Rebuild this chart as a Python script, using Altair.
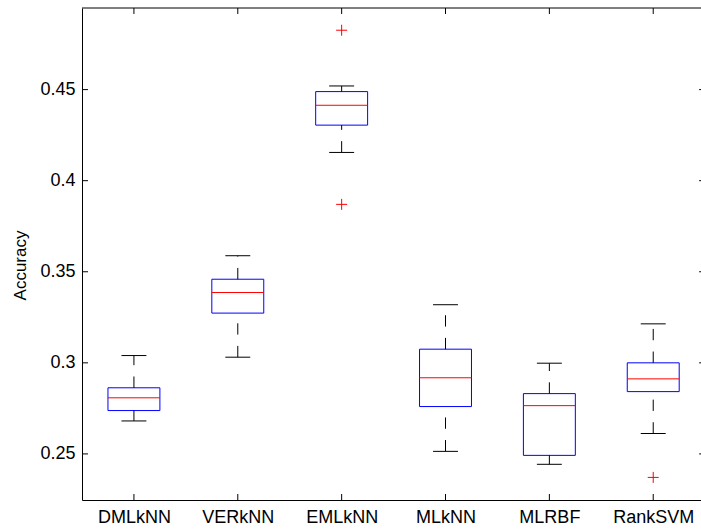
import altair as alt
import pandas as pd

# ---- data ----
methods = ["DMLkNN", "VERkNN", "EMLkNN", "MLkNN", "MLRBF", "RankSVM"]
lower_whisker = [0.2681, 0.3031, 0.4155, 0.2514, 0.2443, 0.2612]
q1 = [0.2738, 0.3273, 0.4305, 0.2760, 0.2492, 0.2842]
median = [0.2808, 0.3386, 0.4414, 0.2918, 0.2765, 0.2912]
q3 = [0.2863, 0.3459, 0.4489, 0.3075, 0.2831, 0.3000]
upper_whisker = [0.3040, 0.3588, 0.4520, 0.3319, 0.2998, 0.3214]

outlier_methods = ["EMLkNN", "EMLkNN", "RankSVM"]
outlier_values = [0.4826, 0.3870, 0.2371]

y_ticks = [0.25, 0.3, 0.35, 0.4, 0.45]

# ---- layout constants ----
W, H = 619, 492
X_DOM = [0.5, 6.46]
Y_DOM = [0.2247, 0.4948]
TICK = 6
FONT = "Liberation Sans"
right_px = W * (6.5 - X_DOM[0]) / (X_DOM[1] - X_DOM[0])

pos = list(range(1, len(methods) + 1))
df = pd.DataFrame({
    "method": methods, "pos": pos, "lo": lower_whisker, "q1": q1,
    "med": median, "q3": q3, "hi": upper_whisker,
})
df["bx0"] = df["pos"] - 0.25
df["bx1"] = df["pos"] + 0.25
df["cx0"] = df["pos"] - 0.12
df["cx1"] = df["pos"] + 0.12

out_df = pd.DataFrame({
    "pos": [methods.index(m) + 1 for m in outlier_methods],
    "v": outlier_values,
})
ytick_df = pd.DataFrame({"v": y_ticks})
one = pd.DataFrame({"a": [0]})

xs = alt.Scale(domain=X_DOM, nice=False, zero=False)
ys = alt.Scale(domain=Y_DOM, nice=False, zero=False)

label_expr = "[" + ",".join("'%s'" % m for m in methods) + "][datum.value - 1]"

x_axis = alt.Axis(
    values=pos, labelExpr=label_expr, title="", grid=False, ticks=False,
    tickSize=0, domainColor="#000000", domainWidth=1, labelFont=FONT,
    labelFontSize=18, labelColor="#000000", labelPadding=8,
    labelFlush=False, labelOverlap=False,
)
y_axis = alt.Axis(
    values=y_ticks, format="~g", title="Accuracy", grid=False, ticks=False,
    tickSize=0, domainColor="#000000", domainWidth=1, labelFont=FONT,
    labelFontSize=18, labelColor="#000000", labelPadding=7,
    titleFont=FONT, titleFontSize=17, titleFontWeight="normal",
    titleColor="#000000", titleX=-62, titleY=257, titleAngle=270,
    titleAlign="center", titleBaseline="middle",
)


def X(field):
    return alt.X(field, scale=xs, axis=x_axis, title="")


def Y(field):
    return alt.Y(field, scale=ys, axis=y_axis, title="Accuracy")


base = alt.Chart(df)

box = base.mark_rect(fillOpacity=0, stroke="#0000ff", strokeWidth=1).encode(
    x=X("bx0:Q"), x2="bx1:Q", y=Y("q1:Q"), y2="q3:Q",
)

dash = [11.3, 11.3]
wh_lo = base.mark_rule(color="#000000", strokeWidth=1, strokeDash=dash).encode(
    x=X("pos:Q"), y=Y("lo:Q"), y2="q1:Q",
)
wh_hi = base.mark_rule(color="#000000", strokeWidth=1, strokeDash=dash).encode(
    x=X("pos:Q"), y=Y("q3:Q"), y2="hi:Q",
)
cap_lo = base.mark_rule(color="#000000", strokeWidth=1).encode(
    x=X("cx0:Q"), x2="cx1:Q", y=Y("lo:Q"),
)
cap_hi = base.mark_rule(color="#000000", strokeWidth=1).encode(
    x=X("cx0:Q"), x2="cx1:Q", y=Y("hi:Q"),
)
med = base.mark_rule(color="#ff0000", strokeWidth=1).encode(
    x=X("bx0:Q"), x2="bx1:Q", y=Y("med:Q"),
)
outl = alt.Chart(out_df).mark_point(
    shape="M-1,0L1,0M0,-1L0,1", size=121, filled=False,
    stroke="#ff0000", strokeWidth=1, opacity=1,
).encode(
    x=X("pos:Q"), y=Y("v:Q"),
)

# inward ticks (MATLAB style) and top border
tick_style = dict(color="#000000", strokeWidth=1)
xt_bottom = base.mark_rule(**tick_style).encode(
    x=X("pos:Q"), y=alt.value(H), y2=alt.value(H - TICK),
)
xt_top = base.mark_rule(**tick_style).encode(
    x=X("pos:Q"), y=alt.value(0), y2=alt.value(TICK),
)
yt_left = alt.Chart(ytick_df).mark_rule(**tick_style).encode(
    y=Y("v:Q"), x=alt.value(0), x2=alt.value(TICK),
)
yt_right = alt.Chart(ytick_df).mark_rule(**tick_style).encode(
    y=Y("v:Q"), x=alt.value(right_px - TICK), x2=alt.value(right_px),
)
top_border = alt.Chart(one).mark_rule(**tick_style).encode(
    x=alt.value(0), x2=alt.value(right_px), y=alt.value(0),
)

chart = alt.layer(
    box, wh_lo, wh_hi, cap_lo, cap_hi, med, outl,
    xt_bottom, xt_top, yt_left, yt_right, top_border,
).properties(
    width=W, height=H,
    autosize=alt.AutoSizeParams(type="none"),
    padding={"left": 82, "top": 8, "right": 0, "bottom": 531 - 8 - H},
    background="#ffffff",
).configure_view(strokeWidth=0)

chart.save("out.html", embed_options={"renderer": "svg", "actions": False})
